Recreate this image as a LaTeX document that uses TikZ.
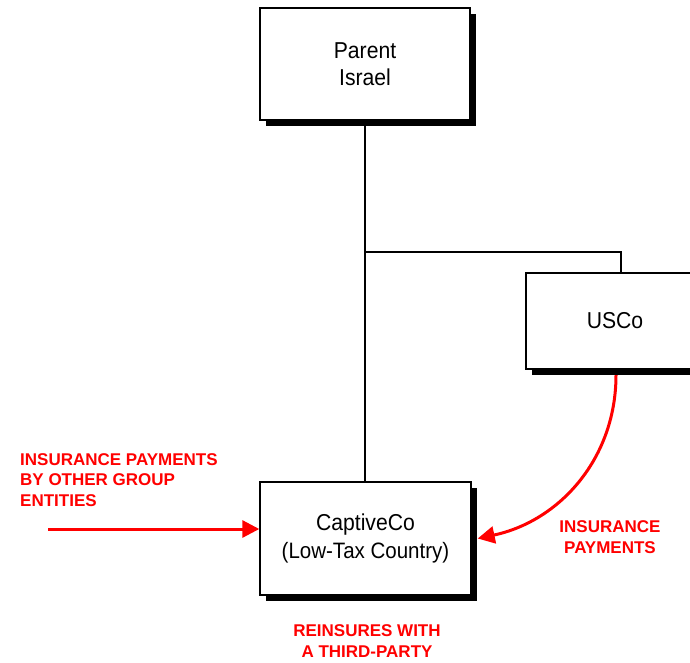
\documentclass[tikz,border=0pt]{standalone}
\usepackage{fontspec}
\setmainfont{Liberation Sans}
\newfontfamily\boxfont[FakeStretch=0.92]{Liberation Sans}
\usetikzlibrary{arrows.meta,shadows}
\definecolor{lblred}{RGB}{255,0,0}
\tikzset{
  entity/.style={draw=black, line width=1.4pt, fill=white, inner sep=0pt,
    align=center, font=\boxfont\fontsize{23}{27.5}\selectfont,
    drop shadow={shadow xshift=6pt, shadow yshift=-6pt, opacity=1, fill=black}},
  link/.style={draw=black, line width=1.4pt},
  flow/.style={draw=lblred, line width=3pt, -{Triangle[length=17pt,width=17pt]}},
  flowlabel/.style={text=lblred, inner sep=0pt, font=\bfseries\fontsize{17}{20.5}\selectfont}
}
\begin{document}
\begin{tikzpicture}[x=1pt,y=-1pt]
\useasboundingbox (0,0) rectangle (690,662);
\node[entity, minimum width=210pt, minimum height=112pt] (parent) at (365,64) {Parent\\Israel};
\node[entity, minimum width=178pt, minimum height=96pt] (usco) at (615,321) {USCo};
\node[entity, minimum width=211pt, minimum height=113pt] (captive) at (365.5,538.5) {CaptiveCo\\{\fontsize{22.3}{27.5}\selectfont(Low-Tax Country)}};
\coordinate (j) at (parent.south |- 0,252);
\draw[link] (parent.south) -- (parent.south |- captive.north);
\draw[link] (j) -| ([xshift=6pt]usco.north);
\coordinate (src) at (48,529);
\draw[flow] (src) -- (captive.west |- src);
\coordinate (cs) at (616,375);
\draw[flow] (cs) to[out=-90,in=12] ([xshift=6pt]captive.east);
\node[flowlabel, align=left, anchor=west] (l1) at (20,480) {INSURANCE PAYMENTS\\BY OTHER GROUP\\ENTITIES};
\node[flowlabel, align=center] (l2) at (610,537) {INSURANCE\\PAYMENTS};
\node[flowlabel, align=center] (l3) at (367,641) {REINSURES WITH\\A THIRD-PARTY};
\end{tikzpicture}
\end{document}
